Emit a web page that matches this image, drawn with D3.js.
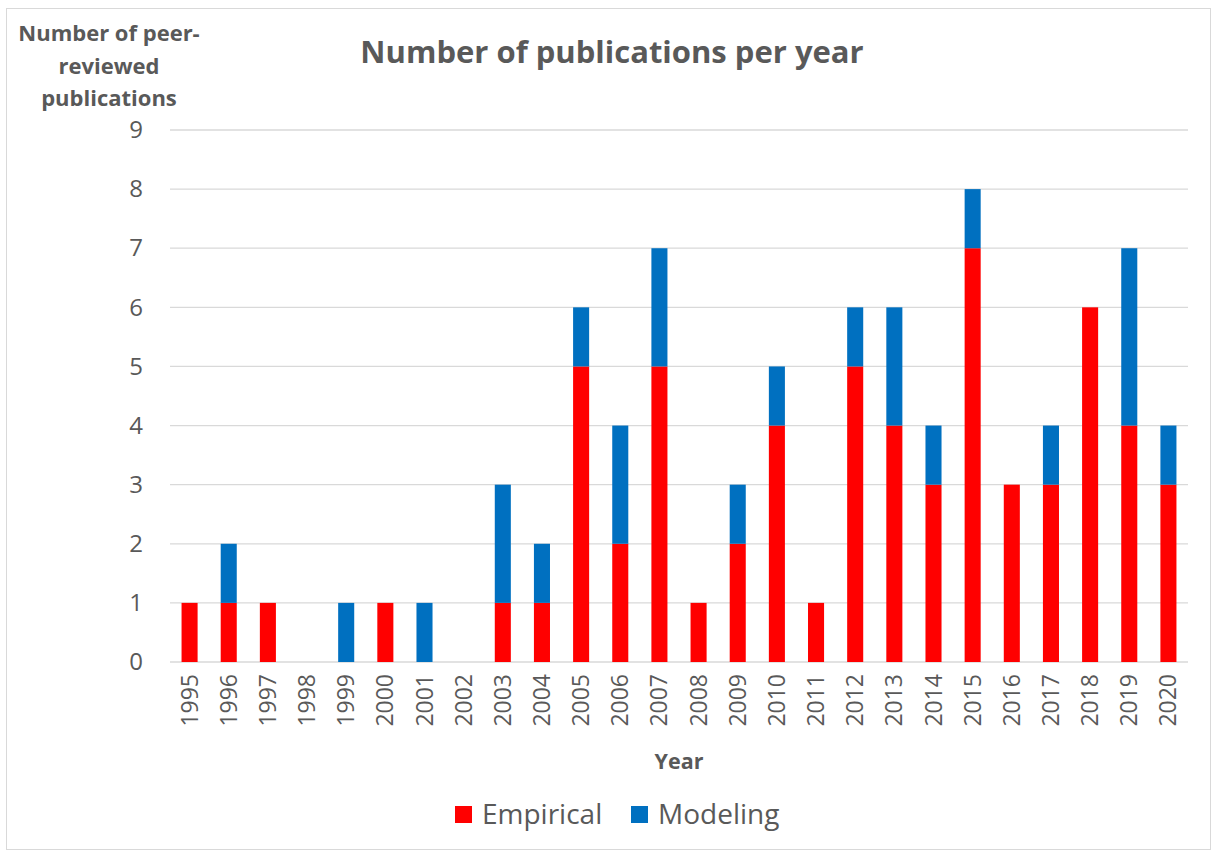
<!DOCTYPE html>
<meta charset="utf-8">
<title>Number of publications per year</title>
<style>
body {
  margin: 0;
  background: #fff;
  font-family: "Open Sans", sans-serif;
}
text { fill: #595959; }
.grid line { stroke: #d9d9d9; stroke-width: 1.3px; }
</style>
<body>
<script src="https://cdn.jsdelivr.net/npm/d3@7"></script>
<script>

var years = ["1995","1996","1997","1998","1999","2000","2001","2002","2003","2004","2005","2006","2007",
             "2008","2009","2010","2011","2012","2013","2014","2015","2016","2017","2018","2019","2020"];
var empirical = [1,1,1,0,0,1,0,0,1,1,5,2,5,1,2,4,1,5,4,3,7,3,3,6,4,3];
var modeling  = [0,1,0,0,1,0,1,0,2,1,1,2,2,0,1,1,0,1,2,1,1,0,1,0,3,1];
var seriesNames = ["Empirical", "Modeling"];
var colors = ["#ff0000", "#0070c0"];
var yTicks = [0,1,2,3,4,5,6,7,8,9];

var width = 1213,
    height = 852,
    margin = {top: 130, right: 25, bottom: 190, left: 170};

var svg = d3.select("body").append("svg")
    .attr("width", width)
    .attr("height", height);

// chart border
svg.append("rect")
    .attr("x", 6.5).attr("y", 8.5)
    .attr("width", width - 9).attr("height", height - 11)
    .attr("fill", "none")
    .attr("stroke", "#d9d9d9");

var x = d3.scaleBand()
    .domain(years)
    .range([margin.left, width - margin.right])
    .paddingInner(0.59)
    .paddingOuter(0.295);

var y = d3.scaleLinear()
    .domain([0, 9])
    .range([height - margin.bottom, margin.top]);

// gridlines
svg.append("g")
    .attr("class", "grid")
  .selectAll("line")
    .data(yTicks)
  .enter().append("line")
    .attr("x1", margin.left)
    .attr("x2", width - margin.right)
    .attr("y1", function(d) { return y(d); })
    .attr("y2", function(d) { return y(d); });

// y tick labels
var yAxis = svg.append("g")
    .attr("transform", "translate(" + (margin.left - 10) + ",0)")
    .call(d3.axisLeft(y).tickValues(yTicks).tickSize(0).tickPadding(17));
yAxis.select(".domain").remove();
yAxis.selectAll("text")
    .style("font-size", "24px")
    .style("font-family", "'Open Sans', sans-serif")
    .attr("fill", "#595959");

// stacked bars
var rows = years.map(function(yr, i) {
  return {year: yr, Empirical: empirical[i], Modeling: modeling[i]};
});
var stacked = d3.stack().keys(seriesNames)(rows);

svg.append("g").selectAll("g")
    .data(stacked)
  .enter().append("g")
    .attr("fill", function(d, i) { return colors[i]; })
  .selectAll("rect")
    .data(function(d) { return d; })
  .enter().append("rect")
    .attr("x", function(d) { return x(d.data.year); })
    .attr("width", x.bandwidth())
    .attr("y", function(d) { return y(d[1]); })
    .attr("height", function(d) { return y(d[0]) - y(d[1]); });

// x tick labels (rotated)
var xAxis = svg.append("g")
    .attr("transform", "translate(0," + y(0) + ")")
    .call(d3.axisBottom(x).tickSize(0));
xAxis.select(".domain").remove();
xAxis.selectAll("text")
    .style("font-size", "23px")
    .style("font-family", "'Open Sans', sans-serif")
    .attr("fill", "#595959")
    .attr("transform", "rotate(-90)")
    .attr("text-anchor", "end")
    .attr("x", -12)
    .attr("y", 0)
    .attr("dy", "0.35em");

// title
svg.append("text")
    .attr("x", 612)
    .attr("y", 63)
    .attr("text-anchor", "middle")
    .style("font-size", "31px")
    .style("font-weight", "bold")
    .text("Number of publications per year");

// y axis title
var yTitle = svg.append("text")
    .attr("text-anchor", "middle")
    .style("font-size", "22px")
    .style("font-weight", "bold");
["Number of peer-", "reviewed", "publications"].forEach(function(line, i) {
  yTitle.append("tspan")
      .attr("x", 109)
      .attr("y", 41 + i * 32.5)
      .text(line);
});

// x axis title
svg.append("text")
    .attr("x", 679)
    .attr("y", 769)
    .attr("text-anchor", "middle")
    .style("font-size", "21.5px")
    .style("font-weight", "bold")
    .text("Year");

// legend
var legendX = [455, 631];
var legend = svg.append("g").selectAll("g")
    .data(seriesNames)
  .enter().append("g")
    .attr("transform", function(d, i) { return "translate(" + legendX[i] + ",806)"; });
legend.append("rect")
    .attr("width", 17)
    .attr("height", 17)
    .attr("fill", function(d, i) { return colors[i]; });
legend.append("text")
    .attr("x", 27)
    .attr("y", 18)
    .style("font-size", "28px")
    .text(function(d) { return d; });

</script>
</body>
